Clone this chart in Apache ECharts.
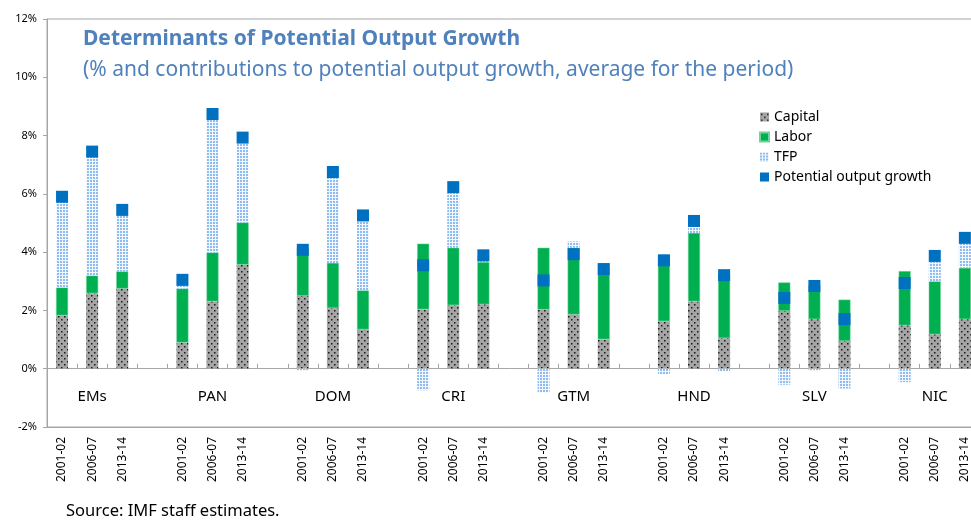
<!DOCTYPE html>
<html>
<head>
<meta charset="utf-8">
<script src="https://cdn.jsdelivr.net/npm/echarts@6/dist/echarts.min.js"></script>
<style>
  html, body { margin: 0; padding: 0; background: #fff; }
  #chart { width: 971px; height: 521px; }
</style>
</head>
<body>
<div id="chart"></div>
<script>
    var groups = ['EMs', 'PAN', 'DOM', 'CRI', 'GTM', 'HND', 'SLV', 'NIC'];
    var periods = ['2001-02', '2006-07', '2013-14'];

    // one row per group, one value per period (% points)
    var capital = [
        [1.83, 2.59, 2.75],
        [0.90, 2.31, 3.57],
        [2.50, 2.08, 1.35],
        [2.04, 2.18, 2.21],
        [2.03, 1.86, 1.01],
        [1.63, 2.31, 1.05],
        [1.98, 1.70, 0.95],
        [1.49, 1.18, 1.70]
    ];
    var labor = [
        [0.96, 0.61, 0.59],
        [1.85, 1.68, 1.45],
        [1.64, 1.55, 1.34],
        [2.25, 1.97, 1.45],
        [2.12, 2.29, 2.46],
        [2.26, 2.35, 2.22],
        [0.98, 1.16, 1.42],
        [1.86, 1.82, 1.76]
    ];
    var tfp = [
        [2.95, 4.08, 1.91],
        [0.28, 4.61, 2.69],
        [-0.05, 2.91, 2.40],
        [-0.74, 1.89, 0.20],
        [-0.82, 0.22, 0.16],
        [-0.19, 0.32, -0.10],
        [-0.55, -0.05, -0.68],
        [-0.46, 0.66, 0.83]
    ];
    var potential = [
        [5.90, 7.45, 5.45],
        [3.05, 8.74, 7.93],
        [4.08, 6.75, 5.26],
        [3.55, 6.23, 3.89],
        [3.03, 3.93, 3.42],
        [3.72, 5.07, 3.21],
        [2.43, 2.84, 1.70],
        [2.94, 3.87, 4.49]
    ];
    var yTicks = [-2, 0, 2, 4, 6, 8, 10, 12];

    var FONT = 'Noto Sans';

    // flatten: 3 periods + 1 blank slot per group
    function flat(rows) {
        var out = [];
        rows.forEach(function (r) {
            r.forEach(function (v) { out.push(v); });
            out.push('-');
        });
        return out;
    }
    var periodCats = [], groupCats = [];
    groups.forEach(function (g, gi) {
        periods.forEach(function (p, pi) {
            periodCats.push(p);
            groupCats.push(pi === 1 ? g : '');
        });
        periodCats.push('');
        groupCats.push('');
    });

    function pattern(size, bg, dot, dots, d) {
        var c = document.createElement('canvas');
        c.width = size;
        c.height = size;
        var ctx = c.getContext('2d');
        ctx.fillStyle = bg;
        ctx.fillRect(0, 0, size, size);
        ctx.fillStyle = dot;
        dots.forEach(function (p) {
            ctx.fillRect(p[0], p[1], d, d);
        });
        return { image: c, repeat: 'repeat' };
    }
    var capitalFill = pattern(6, '#a5a5a5', '#1a1a1a', [[1, 1], [4, 4]], 1.5);
    var tfpFill = pattern(3, '#f3f8fe', '#8fbcf0', [[0, 0]], 2);

    var myChart = echarts.init(document.getElementById('chart'));
    var option = {
        animation: false,
        textStyle: { fontFamily: FONT },
        title: {
            text: 'Determinants of Potential Output Growth',
            subtext: '(% and contributions to potential output growth, average for the period)',
            left: 78,
            top: 24,
            itemGap: 10,
            textStyle: { color: '#4f81bd', fontSize: 21, fontWeight: 'bold', fontFamily: FONT },
            subtextStyle: { color: '#4f81bd', fontSize: 21, fontFamily: FONT }
        },
        legend: {
            orient: 'vertical',
            left: 754,
            top: 105,
            itemWidth: 9,
            itemHeight: 9,
            itemGap: 6,
            icon: 'rect',
            textStyle: { fontSize: 14, color: '#000', fontFamily: FONT },
            data: ['Capital', 'Labor', 'TFP', 'Potential output growth']
        },
        grid: {
            left: 47,
            top: 19,
            width: 963,
            height: 408,
            outerBoundsMode: 'none',
            containLabel: false,
            show: true,
            borderColor: '#a6a6a6',
            borderWidth: 1
        },
        xAxis: [
            {
                // axis line at zero with ticks pointing up
                type: 'category',
                position: 'top',
                data: periodCats,
                axisLine: { onZero: true, lineStyle: { color: '#a6a6a6' } },
                axisTick: { show: true, length: 5, interval: 0, lineStyle: { color: '#a6a6a6' } },
                axisLabel: { show: false }
            },
            {
                type: 'category',
                position: 'bottom',
                data: periodCats,
                axisLine: { onZero: false, lineStyle: { color: '#a6a6a6' } },
                axisTick: { show: false },
                axisLabel: { interval: 0, rotate: 90, margin: 10, color: '#000', fontSize: 12, fontFamily: FONT }
            },
            {
                type: 'category',
                position: 'bottom',
                offset: -38,
                data: groupCats,
                axisLine: { show: false, onZero: false },
                axisTick: { show: false },
                axisLabel: { interval: 0, margin: 0, color: '#000', fontSize: 15, fontFamily: FONT }
            }
        ],
        yAxis: {
            type: 'value',
            min: yTicks[0],
            max: yTicks[yTicks.length - 1],
            interval: 2,
            axisLine: { show: true, lineStyle: { color: '#a6a6a6' } },
            axisTick: { show: true, length: 4, lineStyle: { color: '#a6a6a6' } },
            splitLine: { show: false },
            axisLabel: { formatter: '{value}%', color: '#000', fontSize: 11, margin: 10, fontFamily: FONT }
        },
        series: [
            {
                name: 'Capital',
                type: 'bar',
                stack: 'pot',
                barWidth: 12,
                itemStyle: { color: capitalFill },
                data: flat(capital)
            },
            {
                name: 'Labor',
                type: 'bar',
                stack: 'pot',
                barWidth: 12,
                itemStyle: { color: '#00b050', borderColor: '#6fd39a', borderWidth: 0.5 },
                data: flat(labor)
            },
            {
                name: 'TFP',
                type: 'bar',
                stack: 'pot',
                barWidth: 12,
                itemStyle: { color: tfpFill },
                data: flat(tfp)
            },
            {
                name: 'Potential output growth',
                type: 'scatter',
                symbol: 'rect',
                symbolSize: 12,
                z: 5,
                itemStyle: { color: '#0070c0', opacity: 1 },
                data: flat(potential)
            }
        ],
        graphic: [
            {
                type: 'text',
                left: 66,
                top: 503,
                style: { text: 'Source: IMF staff estimates.', fontSize: 16.5, fill: '#000', fontFamily: FONT }
            }
        ]
    };
    myChart.setOption(option);
</script>
</body>
</html>
